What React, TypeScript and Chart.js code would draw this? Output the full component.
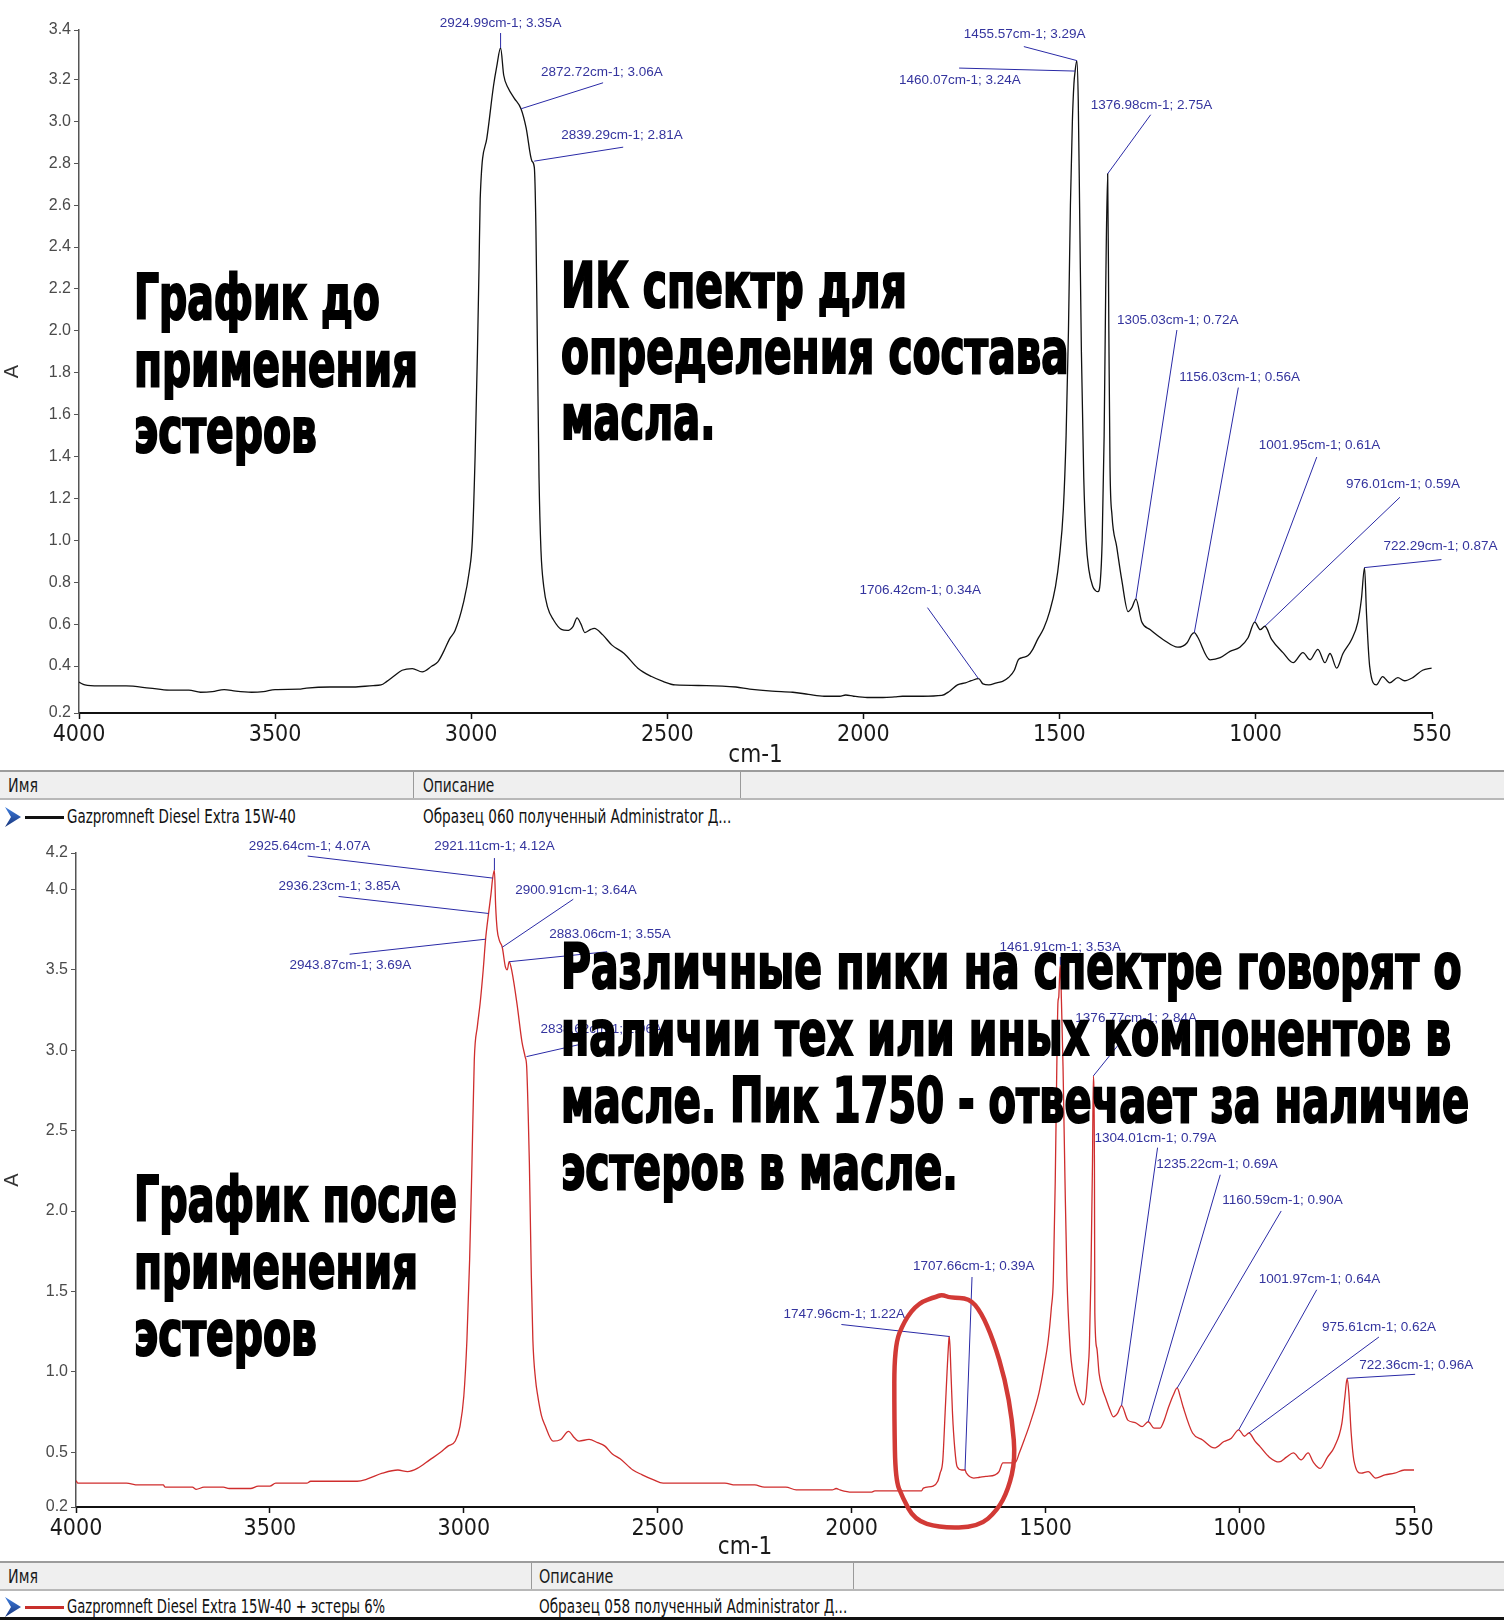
import React, { useEffect, useLayoutEffect, useRef } from "react";
import { Chart, registerables } from "chart.js";

Chart.register(...registerables);

// ---------------- DATA ----------------
const xTickValues = [4000, 3500, 3000, 2500, 2000, 1500, 1000, 550];
const xRange = [550, 4000];

// Spectrum before esters (black)
const topWavenumbers = [
  4000, 3985, 3950, 3880, 3820, 3770, 3720, 3690, 3660, 3630, 3600, 3560, 3530, 3500, 3440, 3420, 3360, 3300, 3250,
  3230, 3215, 3195, 3176, 3150, 3125, 3100, 3085, 3070, 3055, 3041, 3020, 3005, 2997, 2990, 2984, 2980, 2977, 2960,
  2943, 2935, 2925, 2917, 2906, 2890, 2873, 2860, 2845, 2839, 2835, 2831, 2827, 2822, 2815, 2805, 2790, 2770, 2755,
  2740, 2730, 2720, 2710, 2695, 2686, 2665, 2641, 2610, 2575, 2540, 2511, 2480, 2400, 2325, 2290, 2233, 2180, 2140,
  2100, 2060, 2045, 2025, 1990, 1950, 1920, 1900, 1850, 1800, 1780, 1760, 1740, 1725, 1706, 1695, 1680, 1660, 1645,
  1630, 1615, 1605, 1595, 1580, 1568, 1555, 1540, 1525, 1510, 1500, 1490, 1483, 1477, 1472, 1467, 1463, 1460, 1455.6,
  1452, 1448, 1444, 1438, 1432, 1425, 1415, 1408, 1402, 1396, 1391, 1386, 1382, 1377, 1374, 1371, 1366, 1354, 1341,
  1325, 1315, 1305, 1290, 1269, 1236, 1198, 1175, 1163, 1156, 1148, 1116, 1090, 1065, 1040, 1019, 1002, 988, 976, 959,
  930, 904, 879, 861, 841, 823, 810, 793, 777, 755, 739, 730, 722, 717, 709, 692, 676, 658, 637, 620, 599, 574, 551,
];
const topAbsorbance = [
  0.323, 0.31, 0.305, 0.305, 0.295, 0.285, 0.285, 0.275, 0.278, 0.288, 0.28, 0.275, 0.278, 0.288, 0.29, 0.295, 0.3,
  0.3, 0.307, 0.31, 0.327, 0.355, 0.38, 0.388, 0.372, 0.4, 0.42, 0.47, 0.53, 0.57, 0.7, 0.85, 1.0, 1.4, 1.9, 2.3, 2.63,
  2.92, 3.17, 3.26, 3.35, 3.22, 3.16, 3.11, 3.06, 2.97, 2.81, 2.78, 2.5, 1.9, 1.3, 0.95, 0.78, 0.68, 0.62, 0.575,
  0.57, 0.59, 0.63, 0.6, 0.56, 0.575, 0.58, 0.55, 0.5, 0.46, 0.39, 0.35, 0.327, 0.31, 0.307, 0.3, 0.29, 0.28, 0.275,
  0.265, 0.256, 0.256, 0.262, 0.256, 0.25, 0.25, 0.253, 0.256, 0.256, 0.26, 0.28, 0.31, 0.32, 0.33, 0.34, 0.315,
  0.31, 0.32, 0.327, 0.345, 0.38, 0.43, 0.44, 0.45, 0.48, 0.53, 0.58, 0.66, 0.78, 0.92, 1.15, 1.5, 2.0, 2.6, 3.0,
  3.18, 3.24, 3.29, 3.1, 2.5, 1.9, 1.3, 1.0, 0.86, 0.78, 0.76, 0.755, 0.8, 1.0, 1.5, 2.2, 2.75, 2.0, 1.35, 1.12, 0.97,
  0.81, 0.66, 0.68, 0.72, 0.61, 0.574, 0.527, 0.49, 0.51, 0.55, 0.56, 0.54, 0.43, 0.44, 0.47, 0.49, 0.535, 0.61,
  0.574, 0.59, 0.527, 0.464, 0.416, 0.464, 0.43, 0.48, 0.416, 0.46, 0.39, 0.46, 0.527, 0.61, 0.72, 0.87, 0.65, 0.4,
  0.31, 0.35, 0.32, 0.345, 0.33, 0.345, 0.38, 0.39,
];
const topYRange = [0.176, 3.436];
const topYTickValues = [0.4, 0.6, 0.8, 1.0, 1.2, 1.4, 1.6, 1.8, 2.0, 2.2, 2.4, 2.6, 2.8, 3.0, 3.2];

// Spectrum after esters (red)
const bottomWavenumbers = [
  4000, 3995, 3870, 3840, 3775, 3770, 3700, 3690, 3670, 3620, 3605, 3550, 3530, 3500, 3485, 3405, 3395, 3275, 3250,
  3210, 3170, 3145, 3120, 3088, 3060, 3040, 3022, 3010, 3000, 2992, 2985, 2979, 2973, 2965, 2958, 2950, 2943.87,
  2936.23, 2930, 2925.64, 2921.11, 2918, 2914, 2908, 2900.91, 2893, 2888, 2883.06, 2876, 2863, 2850, 2842, 2838,
  2834, 2831, 2826, 2822, 2815, 2810, 2800, 2791, 2770, 2750, 2730, 2715, 2703, 2677, 2655, 2637, 2617, 2597, 2564,
  2540, 2512, 2486, 2327, 2300, 2250, 2225, 2170, 2143, 2112, 2050, 2040, 2030, 2000, 1950, 1940, 1820, 1815, 1790,
  1778, 1772, 1765, 1759, 1754, 1749, 1747.96, 1744, 1740, 1734, 1728, 1716, 1707.66, 1704, 1685, 1670, 1654, 1630,
  1620, 1610, 1579, 1567, 1555, 1540, 1517, 1505, 1493, 1485, 1480, 1475, 1471, 1468, 1466, 1464, 1461.91, 1459,
  1455, 1450, 1445, 1437, 1428, 1418, 1410, 1403, 1396, 1391, 1387, 1383, 1379, 1376.77, 1374, 1373, 1368, 1362,
  1354, 1344, 1335, 1325, 1315, 1304.01, 1288, 1269, 1251, 1235.22, 1220, 1205, 1194, 1183, 1170, 1160.59, 1152,
  1145, 1121, 1095, 1065, 1040, 1021, 1001.97, 987, 975.61, 960, 947, 923, 898, 879, 861, 841, 823, 810, 792, 773,
  755, 736, 728, 722.36, 718, 712, 705, 686, 668, 649, 625, 600, 575, 550,
];
const bottomAbsorbance = [
  0.324, 0.308, 0.308, 0.297, 0.297, 0.283, 0.283, 0.27, 0.283, 0.283, 0.275, 0.275, 0.29, 0.29, 0.308, 0.308, 0.32,
  0.32, 0.333, 0.37, 0.39, 0.38, 0.4, 0.453, 0.5, 0.54, 0.57, 0.66, 0.85, 1.2, 1.7, 2.3, 2.94, 3.15, 3.29, 3.5, 3.69,
  3.85, 3.97, 4.07, 4.12, 3.9, 3.75, 3.68, 3.64, 3.52, 3.5, 3.55, 3.49, 3.29, 3.05, 2.96, 2.9, 2.6, 2.3, 1.6, 1.2,
  0.95, 0.86, 0.73, 0.67, 0.57, 0.58, 0.63, 0.59, 0.57, 0.58, 0.56, 0.54, 0.49, 0.46, 0.39, 0.36, 0.33, 0.308, 0.308,
  0.297, 0.297, 0.283, 0.283, 0.267, 0.266, 0.266, 0.275, 0.266, 0.252, 0.252, 0.26, 0.26, 0.277, 0.29, 0.32, 0.37,
  0.45, 0.745, 1.0, 1.21, 1.22, 1.0, 0.745, 0.52, 0.41, 0.39, 0.39, 0.37, 0.34, 0.345, 0.35, 0.36, 0.38, 0.434,
  0.434, 0.5, 0.577, 0.68, 0.87, 1.02, 1.2, 1.4, 1.57, 2.19, 2.9, 3.3, 3.33, 3.45, 3.53, 3.3, 2.9, 2.2, 1.6, 1.16,
  0.97, 0.87, 0.82, 0.795, 0.85, 1.0, 1.16, 1.6, 2.3, 2.84, 2.3, 1.37, 1.15, 0.99, 0.9, 0.83, 0.77, 0.72, 0.74,
  0.79, 0.7, 0.685, 0.66, 0.69, 0.65, 0.65, 0.7, 0.78, 0.86, 0.9, 0.84, 0.78, 0.62, 0.577, 0.527, 0.567, 0.588,
  0.64, 0.6, 0.62, 0.57, 0.535, 0.47, 0.44, 0.47, 0.496, 0.453, 0.496, 0.44, 0.4, 0.47, 0.535, 0.68, 0.85, 0.96,
  0.87, 0.62, 0.45, 0.37, 0.38, 0.34, 0.36, 0.37, 0.39, 0.39,
];
const bottomYRange = [0.16, 4.226];
const bottomYTickValues = [0.5, 1.0, 1.5, 2.0, 2.5, 3.0, 3.5, 4.0];

// Peak annotations
const topPeakWavenumbers = [2924.99, 2872.72, 2839.29, 1455.57, 1460.07, 1376.98, 1305.03, 1156.03, 1001.95, 976.01, 722.29, 1706.42];
const topPeakAbsorbance = [3.35, 3.06, 2.81, 3.29, 3.24, 2.75, 0.72, 0.56, 0.61, 0.59, 0.87, 0.34];

const bottomPeakWavenumbers = [2925.64, 2921.11, 2936.23, 2943.87, 2900.91, 2883.06, 2838.62, 1461.91, 1376.77, 1304.01, 1235.22, 1160.59, 1001.97, 975.61, 722.36, 1747.96, 1707.66];
const bottomPeakAbsorbance = [4.07, 4.12, 3.85, 3.69, 3.64, 3.55, 2.96, 3.53, 2.84, 0.79, 0.69, 0.9, 0.64, 0.62, 0.96, 1.22, 0.39];

// Hand-drawn highlight around the ester band (in wavenumber / absorbance units)
const circleWavenumbers = [1766, 1746, 1697, 1666, 1635, 1604, 1586, 1578, 1596, 1624, 1673, 1774, 1838, 1869, 1887, 1890, 1890, 1864, 1828, 1779];
const circleAbsorbance = [1.48, 1.46, 1.46, 1.37, 1.2, 0.95, 0.7, 0.454, 0.27, 0.14, 0.036, 0.03, 0.08, 0.22, 0.33, 0.7, 1.16, 1.32, 1.43, 1.47];

// Text content
const topLeftLines = ["График до", "применения", "эстеров"];
const topRightLines = ["ИК спектр для", "определения состава", "масла."];
const bottomRightLines = [
  "Различные пики на спектре говорят о",
  "наличии тех или иных компонентов в",
  "масле. Пик 1750 - отвечает за наличие",
  "эстеров в масле.",
];
const bottomLeftLines = ["График после", "применения", "эстеров"];

// ---------------- LAYOUT / STYLE ----------------
// label layout: [leader dx, leader dy, text dx, text dy, align] (pixels from the peak)
type Lay = [number, number, number, number, CanvasTextAlign];
const topPeakLayout: Lay[] = [
  [0, -15, 0, -25, "center"],
  [82, -26, 20, -36, "left"],
  [89, -14, 27, -26, "left"],
  [-53, -14, -113, -26, "left"],
  [-116, -3, -176, 9, "left"],
  [43, -59, -17, -68, "left"],
  [41, -269, -19, -279, "left"],
  [44, -245, -15, -255, "left"],
  [62, -165, 4, -177, "left"],
  [135, -129, 81, -142, "left"],
  [77, -8, 19, -21, "left"],
  [-51, -71, -119, -88, "left"],
];
const bottomPeakLayout: Lay[] = [
  [-185, -22, -244, -32, "left"],
  [0, -12, 0, -24, "center"],
  [-150, -17, -210, -27, "left"],
  [-136, 15, -196, 26, "left"],
  [71, -48, 13, -57, "left"],
  [98, -10, 40, -27, "left"],
  [57, -13, 14, -27, "left"],
  [0, -8, 0, -18, "center"],
  [29, -36, -18, -58, "left"],
  [36, -258, -27, -267, "left"],
  [72, -247, 8, -257, "left"],
  [104, -177, 45, -188, "left"],
  [78, -140, 20, -151, "left"],
  [130, -96, 73, -106, "left"],
  [68, -4, 12, -13, "left"],
  [-108, -12, -166, -22, "left"],
  [7, -193, -52, -204, "left"],
];

const NARROW = "'Liberation Sans Narrow', 'Arial Narrow', 'DejaVu Sans Condensed', sans-serif";
const SANS = "'Liberation Sans', Arial, sans-serif";
const LABEL_BLUE = "#34349e";
const LEADER_BLUE = "#2a2aa6";

function makePlugin(id: string, wns: number[], abs: number[], layout: Lay[], circle?: { wn: number[]; a: number[] }) {
  return {
    id,
    afterDraw(chart: any) {
      const { ctx } = chart;
      const xs = chart.scales.x;
      const ys = chart.scales.y;
      ctx.save();
      ctx.font = `13.5px ${SANS}`;
      ctx.textBaseline = "middle";
      wns.forEach((wn, i) => {
        const px = xs.getPixelForValue(wn);
        const py = ys.getPixelForValue(abs[i]);
        const [dx, dy, tx, ty, align] = layout[i];
        ctx.strokeStyle = LEADER_BLUE;
        ctx.lineWidth = 1;
        ctx.beginPath();
        ctx.moveTo(px, py);
        ctx.lineTo(px + dx, py + dy);
        ctx.stroke();
        ctx.fillStyle = LABEL_BLUE;
        ctx.textAlign = align;
        ctx.fillText(`${wn.toFixed(2)}cm-1; ${abs[i].toFixed(2)}A`, px + tx, py + ty);
      });
      if (circle) {
        const pts = circle.wn.map((w, i) => [xs.getPixelForValue(w), ys.getPixelForValue(circle.a[i])]);
        ctx.strokeStyle = "#d23a36";
        ctx.lineWidth = 4.5;
        ctx.lineJoin = "round";
        ctx.lineCap = "round";
        ctx.beginPath();
        const n = pts.length;
        const mid = (p: number[], q: number[]) => [(p[0] + q[0]) / 2, (p[1] + q[1]) / 2];
        const m0 = mid(pts[n - 1], pts[0]);
        ctx.moveTo(m0[0], m0[1]);
        for (let i = 0; i < n; i++) {
          const p = pts[i];
          const m = mid(p, pts[(i + 1) % n]);
          ctx.quadraticCurveTo(p[0], p[1], m[0], m[1]);
        }
        ctx.closePath();
        ctx.stroke();
      }
      ctx.restore();
    },
  };
}

interface SpecProps {
  top: number;
  height: number;
  wn: number[];
  abs: number[];
  color: string;
  yRange: number[];
  yTicks: number[];
  areaTop: number;
  areaBottom: number;
  areaLeft: number;
  areaRight: number;
  plugin: any;
}

function SpectrumChart(p: SpecProps) {
  const ref = useRef<HTMLCanvasElement>(null);
  useEffect(() => {
    const canvas = ref.current!;
    const chart = new Chart(canvas, {
      type: "line",
      data: {
        datasets: [
          {
            data: p.wn.map((x, i) => ({ x, y: p.abs[i] })),
            borderColor: p.color,
            borderWidth: 1.3,
            pointRadius: 0,
            fill: false,
            cubicInterpolationMode: "monotone",
          },
        ],
      },
      options: {
        animation: false,
        responsive: false,
        maintainAspectRatio: false,
        events: [],
        layout: { padding: { top: p.areaTop, right: 1504 - p.areaRight, left: 0, bottom: 0 } },
        plugins: { legend: { display: false }, tooltip: { enabled: false }, title: { display: false } },
        scales: {
          x: {
            type: "linear",
            reverse: true,
            min: xRange[0],
            max: xRange[1],
            afterBuildTicks: (s: any) => {
              s.ticks = xTickValues.map((v) => ({ value: v }));
            },
            afterFit: (s: any) => {
              s.height = p.height - p.areaBottom;
            },
            grid: { display: true, drawOnChartArea: false, drawTicks: true, tickLength: 6, tickColor: "#111", tickWidth: 1.5 },
            border: { display: true, color: "#111", width: 2 },
            ticks: {
              autoSkip: false,
              maxRotation: 0,
              padding: 2,
              color: "#1a1a1a",
              font: { family: NARROW, size: 23 },
              callback: (v: any) => String(v),
            },
            title: { display: true, text: "cm-1", color: "#1a1a1a", font: { family: NARROW, size: 24 }, padding: 0 },
          },
          y: {
            type: "linear",
            min: p.yRange[0],
            max: p.yRange[1],
            afterBuildTicks: (s: any) => {
              s.ticks = [p.yRange[0], ...p.yTicks, p.yRange[1]].map((v) => ({ value: v }));
            },
            afterFit: (s: any) => {
              s.width = p.areaLeft;
            },
            grid: { display: true, drawOnChartArea: false, drawTicks: true, tickLength: 5, tickColor: "#555", tickWidth: 1 },
            border: { display: true, color: "#555", width: 1.5 },
            ticks: {
              autoSkip: false,
              padding: 3,
              color: "#4a4a4a",
              font: { family: SANS, size: 16 },
              callback: (v: any) => Number(v).toFixed(1),
            },
            title: { display: true, text: "A", color: "#333", font: { family: SANS, size: 20 }, padding: 0 },
          },
        },
      },
      plugins: [p.plugin],
    } as any);
    return () => chart.destroy();
  }, []);
  return (
    <canvas
      ref={ref}
      width={1504}
      height={p.height}
      style={{ position: "absolute", left: 0, top: p.top, width: 1504, height: p.height }}
    />
  );
}

function FitText(props: {
  text: string;
  left: number;
  top: number;
  width: number;
  size: number;
  family: string;
  weight?: string | number;
  color?: string;
  stroke?: string;
}) {
  const ref = useRef<HTMLDivElement>(null);
  useLayoutEffect(() => {
    const el = ref.current;
    if (!el) return;
    el.style.transform = "none";
    const w = el.offsetWidth;
    if (w > 0) el.style.transform = `scaleX(${props.width / w})`;
  }, [props.text, props.width]);
  return (
    <div
      ref={ref}
      style={{
        position: "absolute",
        left: props.left,
        top: props.top,
        fontSize: props.size,
        lineHeight: `${props.size}px`,
        fontFamily: props.family,
        fontWeight: props.weight ?? "normal",
        color: props.color ?? "#000",
        whiteSpace: "nowrap",
        transformOrigin: "0 0",
        WebkitTextStroke: props.stroke,
      }}
    >
      {props.text}
    </div>
  );
}

const BIG = 63;
function BigLines({ lines, left, baselines, widths }: { lines: string[]; left: number; baselines: number[]; widths: number[] }) {
  return (
    <>
      {lines.map((t, i) => (
        <FitText
          key={i}
          text={t}
          left={left}
          top={baselines[i] - 0.8465 * BIG}
          width={widths[i]}
          size={BIG}
          family={NARROW}
          weight="bold"
          color="#000"
          stroke="2.2px #000"
        />
      ))}
    </>
  );
}

function Chevron({ left, cy }: { left: number; cy: number }) {
  return (
    <svg style={{ position: "absolute", left, top: cy - 10 }} width={16} height={20} viewBox="0 0 16 20">
      <defs>
        <linearGradient id={`g${cy}`} x1="0" y1="0" x2="0" y2="1">
          <stop offset="0" stopColor="#3f7fe0" />
          <stop offset="1" stopColor="#17337a" />
        </linearGradient>
      </defs>
      <polygon points="0,0 16,10 0,20 6,10" fill={`url(#g${cy})`} />
    </svg>
  );
}

function LegendTable(p: {
  top: number;
  sepA: number;
  sepB: number;
  descLeft: number;
  rowCy: number;
  name: string;
  nameWidth: number;
  desc: string;
  descWidth: number;
  headerDescWidth: number;
  lineColor: string;
}) {
  const S = 19;
  return (
    <>
      <div
        style={{
          position: "absolute",
          left: 0,
          top: p.top,
          width: 1504,
          height: 30,
          background: "#efefef",
          borderTop: "2px solid #9c9c9c",
          borderBottom: "2px solid #b8b8b8",
          boxSizing: "border-box",
        }}
      />
      <div style={{ position: "absolute", left: p.sepA, top: p.top + 2, width: 1, height: 26, background: "#9a9a9a" }} />
      <div style={{ position: "absolute", left: p.sepB, top: p.top + 2, width: 1, height: 26, background: "#9a9a9a" }} />
      <FitText text="Имя" left={8} top={p.top + 16 - 0.52 * S} width={30} size={S} family={NARROW} color="#1a1a1a" />
      <FitText text="Описание" left={p.descLeft} top={p.top + 16 - 0.52 * S} width={p.headerDescWidth} size={S} family={NARROW} color="#1a1a1a" />
      <Chevron left={5} cy={p.rowCy} />
      <div style={{ position: "absolute", left: 25, top: p.rowCy - 1.5, width: 39, height: 3, background: p.lineColor }} />
      <FitText text={p.name} left={67} top={p.rowCy - 0.52 * S} width={p.nameWidth} size={S} family={NARROW} color="#111" />
      <FitText text={p.desc} left={p.descLeft} top={p.rowCy - 0.52 * S} width={p.descWidth} size={S} family={NARROW} color="#111" />
    </>
  );
}

const topPlugin = makePlugin("topPeaks", topPeakWavenumbers, topPeakAbsorbance, topPeakLayout);
const bottomPlugin = makePlugin("bottomPeaks", bottomPeakWavenumbers, bottomPeakAbsorbance, bottomPeakLayout, {
  wn: circleWavenumbers,
  a: circleAbsorbance,
});

export default function App() {
  return (
    <div style={{ position: "absolute", left: 0, top: 0, width: 1504, height: 1620, background: "#fff", overflow: "hidden" }}>
      <SpectrumChart
        top={0}
        height={770}
        wn={topWavenumbers}
        abs={topAbsorbance}
        color="#111"
        yRange={topYRange}
        yTicks={topYTickValues}
        areaTop={30}
        areaBottom={713}
        areaLeft={79}
        areaRight={1432}
        plugin={topPlugin}
      />
      <SpectrumChart
        top={830}
        height={732}
        wn={bottomWavenumbers}
        abs={bottomAbsorbance}
        color="#cf2d2d"
        yRange={bottomYRange}
        yTicks={bottomYTickValues}
        areaTop={23}
        areaBottom={677}
        areaLeft={76}
        areaRight={1414}
        plugin={bottomPlugin}
      />
      <LegendTable
        top={770}
        sepA={413}
        sepB={740}
        descLeft={423}
        rowCy={817}
        name="Gazpromneft Diesel Extra 15W-40"
        nameWidth={229}
        desc="Образец 060 полученный Administrator Д..."
        descWidth={308}
        headerDescWidth={71}
        lineColor="#111"
      />
      <LegendTable
        top={1561}
        sepA={531}
        sepB={853}
        descLeft={539}
        rowCy={1607}
        name="Gazpromneft Diesel Extra 15W-40 + эстеры 6%"
        nameWidth={318}
        desc="Образец 058 полученный Administrator Д..."
        descWidth={308}
        headerDescWidth={74}
        lineColor="#c8302c"
      />
      <div style={{ position: "absolute", left: 0, top: 1617, width: 1504, height: 3, background: "#111" }} />
      <BigLines lines={topLeftLines} left={134} baselines={[319, 386, 452]} widths={[246, 284, 183]} />
      <BigLines lines={topRightLines} left={561} baselines={[307, 373, 439]} widths={[346, 508, 154]} />
      <BigLines lines={bottomRightLines} left={561} baselines={[988, 1055, 1122, 1189]} widths={[901, 890, 908, 397]} />
      <BigLines lines={bottomLeftLines} left={134} baselines={[1221, 1288, 1355]} widths={[323, 284, 183]} />
    </div>
  );
}
